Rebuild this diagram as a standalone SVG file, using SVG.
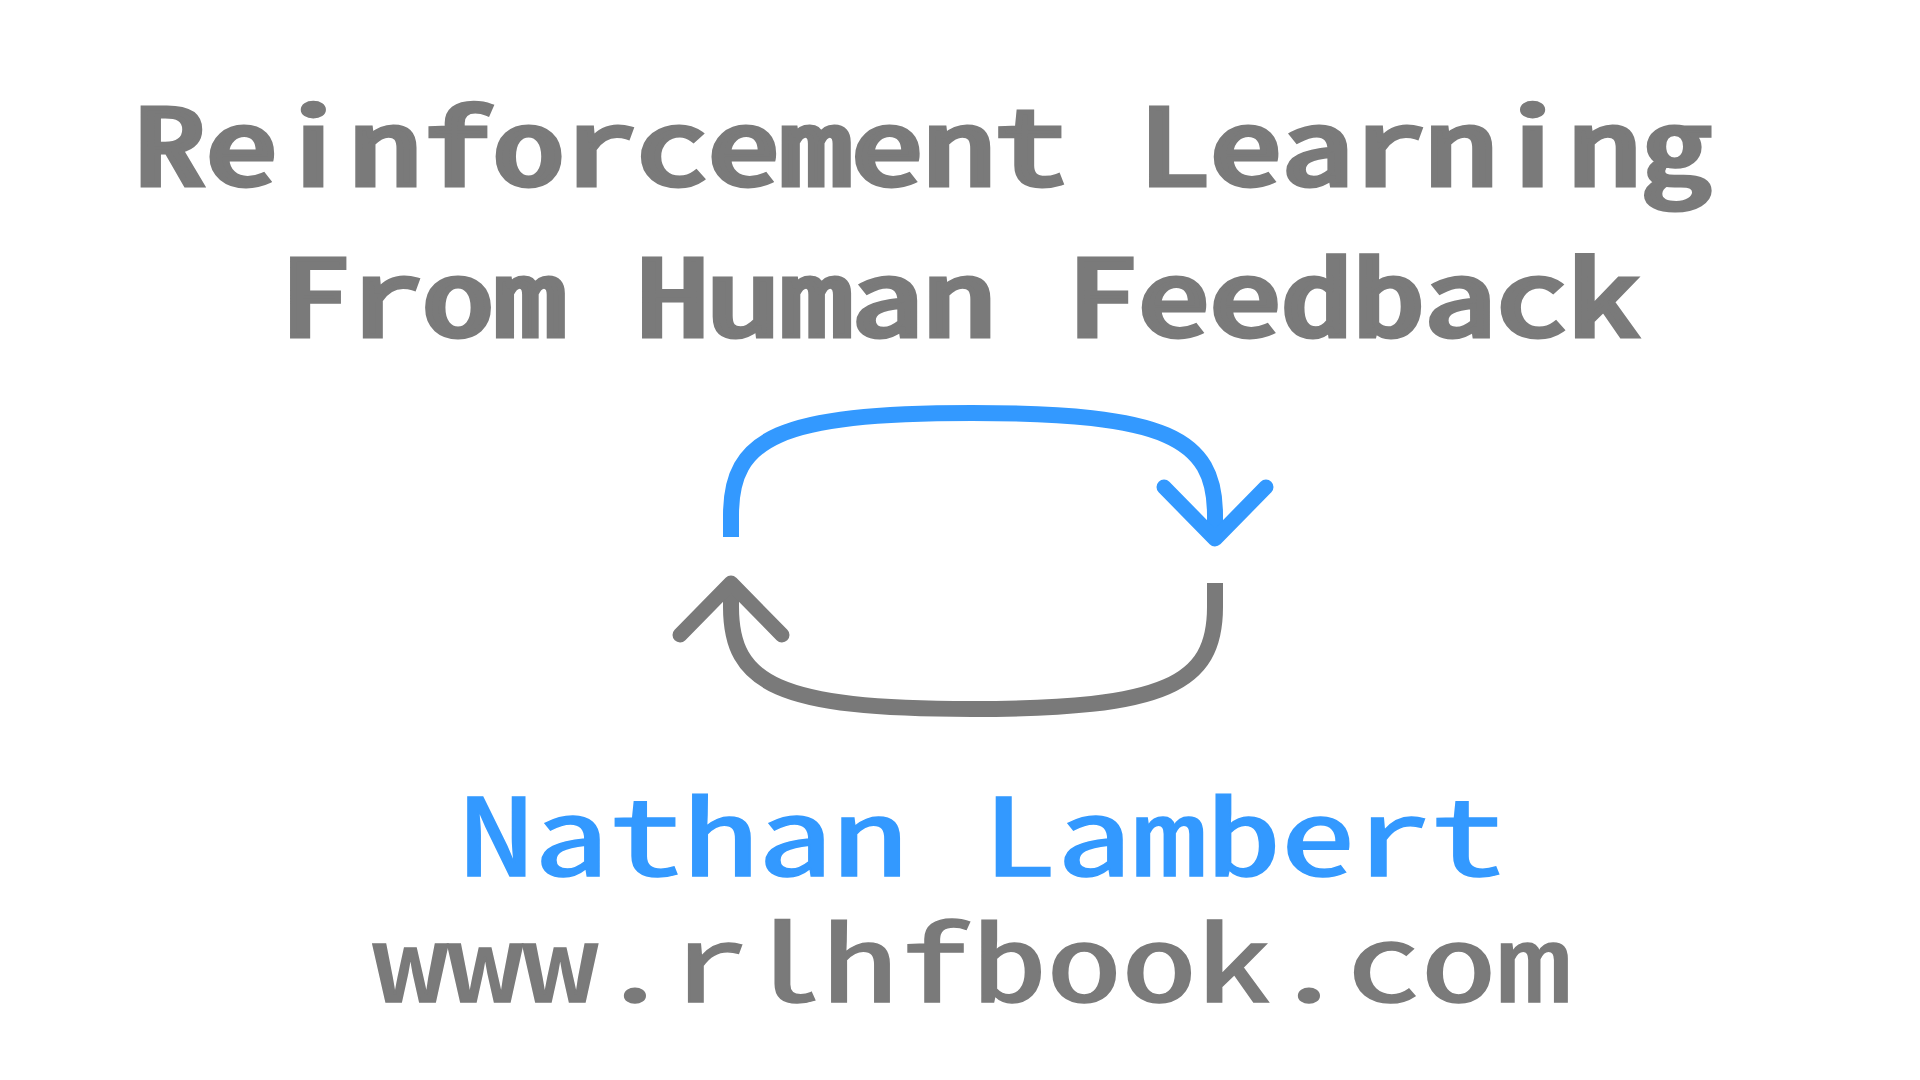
<svg xmlns="http://www.w3.org/2000/svg" width="1920" height="1080" viewBox="0 0 1920 1080">
<style>
text{font-family:"Noto Sans Mono CJK SC","Noto Sans Mono",monospace;stroke-linejoin:miter}
.g{fill:#7a7a7a;stroke:#7a7a7a}.b{fill:#3399ff;stroke:#3399ff}
.t{font-weight:500;font-size:105px;stroke-width:5px}
.m{font-weight:500;font-size:107px;stroke-width:1.5px}
path{fill:none;stroke-width:16}
.sb{stroke:#3399ff}.sg{stroke:#7a7a7a}
.h{stroke-width:15;stroke-linecap:round;stroke-linejoin:round}
</style>
<rect width="1920" height="1080" fill="#ffffff"/>
<g id="title">
<text class="g t" x="134" y="185" textLength="1578" lengthAdjust="spacingAndGlyphs">Reinforcement Learning</text>
<text class="g t" x="279" y="336" textLength="1360" lengthAdjust="spacingAndGlyphs">From Human Feedback</text>
</g>
<g id="connectors">
<path class="sb" d="M731 537V515C731 438 778 413 972 413C1166 413 1215 438 1215 515V539"/>
<path class="sb h" d="M1164 487L1215 539L1266 487"/>
<path class="sg" d="M1215 583V607C1215 684 1166 709 972 709C778 709 731 684 731 607V583"/>
<path class="sg h" d="M680 635L731 583L782 635"/>
</g>
<g id="author">
<text class="b m" x="459" y="876" textLength="1046" lengthAdjust="spacingAndGlyphs">Nathan Lambert</text>
<text class="g m" x="373" y="1002" textLength="1198" lengthAdjust="spacingAndGlyphs">www.rlhfbook.com</text>
</g>
</svg>
